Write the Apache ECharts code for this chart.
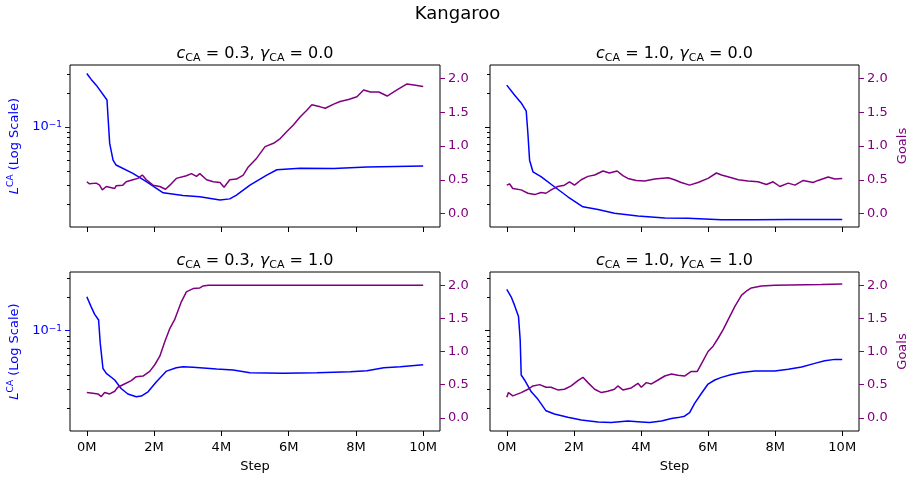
<!DOCTYPE html>
<html><head><meta charset="utf-8">
<script src="https://cdn.jsdelivr.net/npm/echarts@6/dist/echarts.min.js"></script>
<style>html,body{margin:0;padding:0;background:#fff}#c{width:915px;height:478px}</style>
</head><body><div id="c"></div>
<script>
// ---------------- data ----------------
const suptitle = 'Kangaroo';
const panelC = ['0.3', '1.0', '0.3', '1.0'];
const panelGamma = ['0.0', '0.0', '1.0', '1.0'];
const xTickValues = [0, 2, 4, 6, 8, 10];          // millions of steps
const goalTickValues = [0, 0.5, 1, 1.5, 2];
const lossMajorTicks = [0.1];
const lossMinorTicks = [0.02, 0.03, 0.04, 0.05, 0.06, 0.07, 0.08, 0.09, 0.2, 0.3];

// Panel A: c=0.3, gamma=0.0   [step (M), value]
const lossA = [[0,0.302],[0.13,0.267],[0.28,0.237],[0.60,0.174],[0.63,0.123],[0.68,0.0708],[0.78,0.050],[0.87,0.0452],[1.37,0.038],[1.77,0.032],[2.27,0.0254],[2.86,0.024],[3.36,0.0234],[3.96,0.0219],[4.25,0.0224],[4.45,0.0242],[4.85,0.0298],[5.35,0.0367],[5.65,0.041],[6.34,0.0422],[7.34,0.0421],[8.33,0.0435],[10,0.0442]];
const goalsA = [[0,0.47],[0.08,0.44],[0.28,0.45],[0.38,0.42],[0.46,0.35],[0.58,0.40],[0.83,0.37],[0.87,0.41],[1.07,0.42],[1.17,0.47],[1.37,0.50],[1.52,0.52],[1.65,0.57],[1.77,0.50],[1.97,0.42],[2.17,0.40],[2.34,0.36],[2.47,0.42],[2.66,0.52],[2.96,0.56],[3.11,0.59],[3.26,0.55],[3.36,0.59],[3.56,0.50],[3.76,0.47],[3.96,0.46],[4.08,0.39],[4.25,0.50],[4.45,0.51],[4.65,0.57],[4.80,0.69],[5.05,0.82],[5.30,0.99],[5.55,1.04],[5.75,1.11],[5.94,1.21],[6.14,1.31],[6.34,1.43],[6.54,1.53],[6.69,1.61],[6.94,1.58],[7.09,1.56],[7.34,1.62],[7.53,1.66],[7.78,1.69],[8.03,1.73],[8.23,1.83],[8.43,1.80],[8.68,1.80],[8.93,1.74],[9.22,1.83],[9.52,1.92],[9.77,1.90],[10,1.88]];

// Panel B: c=1.0, gamma=0.0
const lossB = [[0,0.237],[0.23,0.193],[0.43,0.164],[0.58,0.138],[0.63,0.087],[0.68,0.050],[0.78,0.0393],[1.02,0.0355],[1.42,0.0288],[1.82,0.0234],[2.27,0.019],[2.72,0.018],[3.21,0.0166],[3.91,0.0157],[4.71,0.0151],[5.40,0.015],[6.40,0.0145],[7.39,0.0145],[8.39,0.0146],[10,0.0146]];
const goalsB = [[0,0.42],[0.08,0.44],[0.18,0.37],[0.43,0.35],[0.63,0.30],[0.83,0.28],[1.02,0.31],[1.17,0.30],[1.32,0.35],[1.52,0.40],[1.72,0.42],[1.87,0.47],[2.02,0.42],[2.22,0.50],[2.42,0.55],[2.62,0.57],[2.87,0.63],[3.06,0.60],[3.29,0.63],[3.46,0.56],[3.61,0.52],[3.86,0.49],[4.11,0.48],[4.41,0.51],[4.81,0.53],[5.00,0.50],[5.20,0.46],[5.45,0.42],[5.70,0.46],[6.00,0.52],[6.25,0.60],[6.40,0.57],[6.70,0.53],[6.90,0.50],[7.19,0.48],[7.49,0.47],[7.74,0.43],[7.94,0.47],[8.14,0.40],[8.39,0.45],[8.59,0.42],[8.84,0.49],[9.13,0.46],[9.28,0.49],[9.58,0.54],[9.78,0.51],[10,0.52]];

// Panel C: c=0.3, gamma=1.0
const lossC = [[0,0.202],[0.13,0.164],[0.23,0.141],[0.35,0.125],[0.40,0.0769],[0.48,0.0457],[0.58,0.0413],[0.83,0.036],[1.02,0.0302],[1.22,0.0269],[1.47,0.0254],[1.62,0.0258],[1.82,0.0282],[2.07,0.0347],[2.37,0.0433],[2.66,0.0464],[2.86,0.0474],[3.16,0.0468],[3.86,0.0452],[4.35,0.0442],[4.85,0.0419],[5.84,0.0413],[6.84,0.0419],[7.83,0.0427],[8.33,0.0436],[8.83,0.0464],[9.32,0.0474],[10,0.0494]];
const goalsC = [[0,0.38],[0.18,0.37],[0.33,0.36],[0.43,0.32],[0.53,0.38],[0.68,0.36],[0.83,0.40],[0.92,0.46],[1.12,0.51],[1.32,0.56],[1.47,0.62],[1.67,0.63],[1.87,0.70],[2.02,0.80],[2.17,0.93],[2.32,1.15],[2.47,1.35],[2.61,1.48],[2.81,1.75],[2.96,1.90],[3.16,1.95],[3.36,1.96],[3.46,1.99],[3.61,2.0],[10,2.0]];

// Panel D: c=1.0, gamma=1.0
const lossD = [[0,0.236],[0.13,0.202],[0.23,0.170],[0.35,0.134],[0.40,0.0824],[0.43,0.0399],[0.53,0.036],[0.73,0.0282],[0.93,0.0241],[1.17,0.019],[1.42,0.0178],[1.82,0.0166],[2.22,0.0157],[2.72,0.0151],[3.11,0.0149],[3.61,0.0154],[4.01,0.0151],[4.26,0.0149],[4.61,0.0154],[4.91,0.0162],[5.10,0.0165],[5.30,0.017],[5.45,0.0183],[5.60,0.0222],[5.80,0.0272],[6.00,0.0331],[6.20,0.036],[6.40,0.038],[6.70,0.0404],[7.00,0.0421],[7.39,0.0433],[7.99,0.0433],[8.39,0.0449],[8.79,0.0471],[9.18,0.0508],[9.48,0.0537],[9.78,0.0552],[10,0.0552]];
const goalsD = [[0,0.31],[0.05,0.38],[0.18,0.33],[0.43,0.38],[0.63,0.43],[0.78,0.48],[0.98,0.50],[1.17,0.46],[1.32,0.46],[1.52,0.42],[1.72,0.43],[1.92,0.48],[2.12,0.56],[2.27,0.61],[2.42,0.53],[2.62,0.43],[2.82,0.38],[3.01,0.40],[3.21,0.43],[3.31,0.48],[3.46,0.42],[3.71,0.45],[3.91,0.52],[4.01,0.46],[4.16,0.53],[4.31,0.51],[4.51,0.57],[4.71,0.63],[4.91,0.66],[5.10,0.64],[5.30,0.63],[5.50,0.70],[5.68,0.70],[5.85,0.86],[6.00,1.00],[6.15,1.08],[6.30,1.20],[6.45,1.33],[6.60,1.48],[6.80,1.68],[7.00,1.85],[7.14,1.91],[7.29,1.96],[7.59,1.99],[7.99,2.00],[9.38,2.01],[10,2.02]];

// ---------------- layout / style ----------------
const FONT = 'DejaVu Sans';
const BLUE = '#0000ff', PURPLE = '#800080';
const lossSeries = [lossA, lossB, lossC, lossD];
const goalSeries = [goalsA, goalsB, goalsC, goalsD];
const grids = [
  {left: 70, top: 65, width: 370, height: 162},
  {left: 490, top: 65, width: 369, height: 162},
  {left: 70, top: 272, width: 370, height: 159},
  {left: 490, top: 272, width: 369, height: 159}
];
const logLimits = [[0.0125, 0.36], [0.0125, 0.36], [0.0125, 0.338], [0.0125, 0.338]];

const option = {
  animation: false,
  backgroundColor: '#fff',
  textStyle: {fontFamily: FONT},
  title: [{text: suptitle, left: 'center', top: 0, textStyle: {fontFamily: FONT, fontSize: 18, fontWeight: 'normal', color: '#000'}}],
  grid: grids.map(g => Object.assign({show: true, borderColor: '#000', borderWidth: 1, backgroundColor: 'transparent'}, g)),
  xAxis: [], yAxis: [], series: [], graphic: []
};

grids.forEach((g, i) => {
  const bottomRow = i >= 2, leftCol = i % 2 === 0;
  option.xAxis.push({
    type: 'value', gridIndex: i, min: -0.5, max: 10.5, position: 'bottom',
    axisLine: {show: false, onZero: false}, splitLine: {show: false},
    axisTick: {show: true, customValues: xTickValues, length: 5, lineStyle: {color: '#000', width: 1}},
    axisLabel: {show: bottomRow, customValues: xTickValues, formatter: v => v + 'M', fontSize: 13, color: '#000', margin: 10, fontFamily: FONT},
    name: bottomRow ? 'Step' : '', nameLocation: 'middle', nameGap: 29,
    nameTextStyle: {fontSize: 13, color: '#000', fontFamily: FONT}
  });
  // main log axis (major ticks + label)
  option.yAxis.push({
    type: 'log', gridIndex: i, position: 'left', min: logLimits[i][0], max: logLimits[i][1],
    axisLine: {show: false, onZero: false}, splitLine: {show: false},
    axisTick: {show: true, customValues: lossMajorTicks, length: 5, lineStyle: {color: leftCol ? BLUE : '#000', width: 1}},
    axisLabel: {show: leftCol, customValues: lossMajorTicks, margin: 8, color: BLUE, fontSize: 13, fontFamily: FONT,
      formatter: v => '10{sup|\u2212' + Math.abs(Math.round(Math.log10(v))) + '}',
      rich: {sup: {fontSize: 9, color: BLUE, fontFamily: FONT, verticalAlign: 'top', lineHeight: 9}}},
    name: leftCol ? '{i|L}{sup|CA} (Log Scale)' : '', nameLocation: 'middle', nameGap: 46, nameRotate: 90,
    nameMoveOverlap: false,
    nameTextStyle: {fontSize: 13, color: BLUE, fontFamily: FONT, lineHeight: 18,
      rich: {i: {fontStyle: 'italic', fontSize: 13, color: BLUE, fontFamily: FONT, lineHeight: 18},
             sup: {fontSize: 9, color: BLUE, fontFamily: FONT, verticalAlign: 'top', lineHeight: 9}}}
  });
  // minor log ticks
  option.yAxis.push({
    type: 'log', gridIndex: i, position: 'left', min: logLimits[i][0], max: logLimits[i][1],
    axisLine: {show: false, onZero: false}, splitLine: {show: false}, axisLabel: {show: false, customValues: lossMinorTicks},
    axisTick: {show: true, customValues: lossMinorTicks, length: 3, lineStyle: {color: '#000', width: 1}}
  });
  // goals axis
  option.yAxis.push({
    type: 'value', gridIndex: i, position: 'right', min: -0.2, max: 2.2,
    axisLine: {show: false, onZero: false}, splitLine: {show: false},
    axisTick: {show: true, customValues: goalTickValues, length: 5, lineStyle: {color: PURPLE, width: 1}},
    axisLabel: {customValues: goalTickValues, formatter: v => v.toFixed(1), color: PURPLE, fontSize: 13, margin: 8, fontFamily: FONT},
    name: leftCol ? '' : 'Goals', nameLocation: 'middle', nameGap: 37, nameRotate: 90, nameMoveOverlap: false,
    nameTextStyle: {fontSize: 13, color: PURPLE, fontFamily: FONT}
  });
  option.series.push({
    type: 'line', xAxisIndex: i, yAxisIndex: 3 * i, data: lossSeries[i], showSymbol: false, symbol: 'none',
    lineStyle: {color: BLUE, width: 1.5}, itemStyle: {color: BLUE}, z: 2
  });
  option.series.push({
    type: 'line', xAxisIndex: i, yAxisIndex: 3 * i + 2, data: goalSeries[i], showSymbol: false, symbol: 'none',
    lineStyle: {color: PURPLE, width: 1.5}, itemStyle: {color: PURPLE}, z: 3
  });
  // subplot title
  option.graphic.push({
    type: 'text', x: g.left + g.width / 2, y: g.top - 11, silent: true,
    style: {
      text: '{i|c}{sub|CA} = ' + panelC[i] + ', {i|\u03b3}{sub|CA} = ' + panelGamma[i],
      align: 'center', verticalAlign: 'middle', fill: '#000', fontSize: 16, fontFamily: FONT, lineHeight: 20,
      rich: {
        i: {fontStyle: 'italic', fontSize: 16, fontFamily: FONT, fill: '#000', lineHeight: 20},
        sub: {fontSize: 11, fontFamily: FONT, fill: '#000', verticalAlign: 'bottom', lineHeight: 11}
      }
    }
  });
});

const chart = echarts.init(document.getElementById('c'), null, {renderer: 'canvas'});
chart.setOption(option);
</script></body></html>
